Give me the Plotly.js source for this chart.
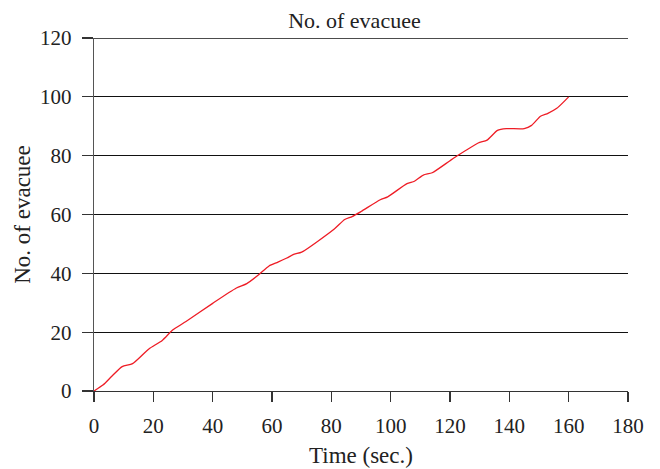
<!DOCTYPE html>
<html>
<head>
<meta charset="utf-8">
<script src="https://cdn.plot.ly/plotly-3.0.1.min.js"></script>
<style>html,body{margin:0;padding:0;background:#fff;}#chart{width:660px;height:469px;}</style>
</head>
<body>
<div id="chart"></div>
<script>
const timeSec = [0, 3, 6, 9.5, 13, 18.5, 23, 26.5, 31, 40, 48, 51.5, 55.5, 59, 62, 65, 67.5, 70, 81, 84.5, 87, 90, 96.5, 99, 105.5, 108, 111, 114, 120, 123, 129.5, 132.5, 136, 139, 145, 147.5, 150.5, 153, 156, 160];
const evacuees = [0, 2, 5, 8.3, 9.3, 14.3, 17.2, 20.7, 23.6, 29.8, 35.0, 36.5, 39.5, 42.5, 43.8, 45.2, 46.5, 47.2, 55.1, 58.3, 59.3, 61, 65, 66, 70.5, 71.3, 73.4, 74.2, 78.3, 80.3, 84.3, 85.3, 88.6, 89.2, 89.2, 90.3, 93.4, 94.4, 96.1, 100];
const xTicks = [0, 20, 40, 60, 80, 100, 120, 140, 160, 180];
const yTicks = [0, 20, 40, 60, 80, 100, 120];
const yMax = 120;

const fam = '"Liberation Serif", "Times New Roman", serif';

Plotly.newPlot('chart', [{
  x: timeSec, y: evacuees, type: 'scatter', mode: 'lines',
  line: {color: '#ee1c25', width: 1.3, shape: 'spline', smoothing: 0.6},
  hoverinfo: 'skip'
}], {
  width: 660, height: 469,
  margin: {l: 94, r: 32, t: 38, b: 78},
  paper_bgcolor: '#fff', plot_bgcolor: '#fff',
  font: {family: fam, color: '#222', size: 18},
  showlegend: false,
  title: {text: 'No. of evacuee', x: 0.537, xanchor: 'center', y: 0.957, yanchor: 'middle', font: {family: fam, size: 22, color: '#222'}},
  shapes: [{type: 'line', xref: 'paper', yref: 'y', x0: 0, x1: 1, y0: yMax, y1: yMax, line: {color: '#111', width: 1.3}, layer: 'below'}],
  xaxis: {
    range: [0, 180], tickvals: xTicks, ticktext: xTicks.map(String),
    showgrid: false, zeroline: false,
    showline: true, linecolor: '#333', linewidth: 1.3,
    ticks: 'outside', ticklen: 10, tickwidth: 1.3, tickcolor: '#333',
    ticklabelstandoff: 5,
    tickfont: {family: fam, size: 21, color: '#222'},
    title: {text: 'Time (sec.)', standoff: 10, font: {family: fam, size: 23, color: '#222'}},
    fixedrange: true
  },
  yaxis: {
    range: [0, yMax], tickvals: yTicks, ticktext: yTicks.map(String),
    showgrid: true, gridcolor: '#111', gridwidth: 1.3, zeroline: false,
    showline: true, linecolor: '#555', linewidth: 1.3,
    ticks: 'outside', ticklen: 11, tickwidth: 1.3, tickcolor: '#333',
    ticklabelstandoff: 6,
    tickfont: {family: fam, size: 21, color: '#222'},
    title: {text: 'No. of evacuee', standoff: 3, font: {family: fam, size: 23, color: '#222'}},
    fixedrange: true
  }
}, {staticPlot: true, displayModeBar: false});
</script>
</body>
</html>
